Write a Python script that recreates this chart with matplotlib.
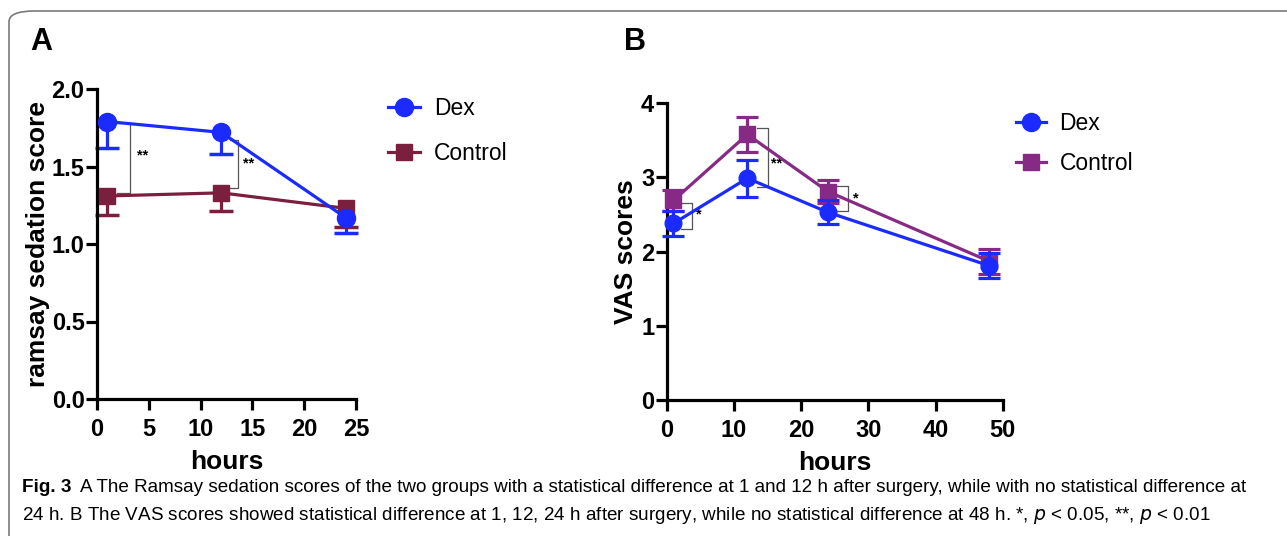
import numpy as np
import matplotlib as mpl
mpl.use('Agg')
import matplotlib.pyplot as plt
from matplotlib.patches import FancyBboxPatch
from matplotlib.lines import Line2D

plt.rcParams['font.family'] = ['Liberation Sans', 'DejaVu Sans']

# ---- data ----
hours_a = [1, 12, 24]
dex_a = [1.79, 1.72, 1.17]
dex_a_err = [0.17, 0.14, 0.10]
ctrl_a = [1.31, 1.33, 1.23]
ctrl_a_err = [0.12, 0.12, 0.12]

hours_b = [1, 12, 24, 48]
dex_b = [2.38, 2.99, 2.53, 1.81]
dex_b_err = [0.17, 0.25, 0.16, 0.17]
ctrl_b = [2.69, 3.58, 2.81, 1.87]
ctrl_b_err = [0.14, 0.24, 0.15, 0.17]

# brackets: (x start, x bar, y top, y bottom, label, label x, label y)
brackets_a = [(1.9, 3.2, 1.78, 1.33, '**', 3.9, 1.57),
              (12.8, 13.6, 1.67, 1.36, '**', 14.1, 1.52)]
brackets_b = [(2.2, 3.8, 2.66, 2.30, '*', 4.3, 2.50),
              (13.4, 15.0, 3.67, 2.87, '**', 15.5, 3.19),
              (25.3, 27.0, 2.88, 2.55, '*', 27.7, 2.72)]

BLUE = '#1b2bff'
MAROON = '#7b1f3e'
PURPLE = '#862a86'

W, H = 1287, 536
fig = plt.figure(figsize=(W / 100, H / 100), dpi=100)

# rounded frame round the whole figure
frame = FancyBboxPatch((9 / W, -0.05), 1.2, 1 - 11 / H + 0.05,
                       boxstyle='round,pad=0,rounding_size=0.02',
                       transform=fig.transFigure, fill=False,
                       edgecolor='#7a7a7a', lw=1.2)
fig.patches.append(frame)


def style_axes(ax):
    for s in ['top', 'right']:
        ax.spines[s].set_visible(False)
    for s in ['left', 'bottom']:
        ax.spines[s].set_linewidth(2.3)
    ax.tick_params(width=2.3, length=8, labelsize=17)
    ax.tick_params(axis='x', pad=6)
    ax.tick_params(axis='y', pad=1)
    for lab in ax.get_xticklabels() + ax.get_yticklabels():
        lab.set_fontweight('bold')


def draw_brackets(ax, brackets):
    for x0, xb, yt, yb, txt, tx, ty in brackets:
        ax.plot([x0, xb, xb, x0], [yt, yt, yb, yb], color='#555555', lw=0.9, zorder=1)
        ax.text(tx, ty, txt, fontsize=10.5, fontweight='bold', ha='left', va='center')


def legend_handles(ctrl_color, ms):
    return [Line2D([], [], color=BLUE, marker='o', lw=2.3, ms=ms + 1),
            Line2D([], [], color=ctrl_color, marker='s', lw=2.3, ms=ms)]


# ---------------- panel A ----------------
axA = fig.add_axes([97 / W, 1 - 399 / H, 259 / W, 310 / H])
axA.set_xlim(0, 25)
axA.set_ylim(0, 2.0)
axA.set_xticks([0, 5, 10, 15, 20, 25])
axA.set_yticks([0.0, 0.5, 1.0, 1.5, 2.0])
axA.set_yticklabels(['0.0', '0.5', '1.0', '1.5', '2.0'])

# one-sided (lower) error bars
for y, e, c in [(dex_a, dex_a_err, BLUE), (ctrl_a, ctrl_a_err, MAROON)]:
    y = np.array(y); e = np.array(e)
    axA.vlines(hours_a, y - e, y, color=c, lw=2.3, zorder=2, clip_on=False)
    axA.plot(hours_a, y - e, ls='none', marker='_', ms=17, mew=2.5, color=c,
             zorder=2, clip_on=False)

axA.plot(hours_a, ctrl_a, '-s', color=MAROON, lw=2.3, ms=12, zorder=3, clip_on=False)
axA.plot(hours_a, dex_a, '-o', color=BLUE, lw=2.3, ms=13, zorder=4, clip_on=False)
draw_brackets(axA, brackets_a)
style_axes(axA)
axA.set_xlabel('hours', fontsize=19, fontweight='bold', labelpad=6)
axA.set_ylabel('ramsay sedation score', fontsize=19, fontweight='bold', labelpad=1)
fig.legend(legend_handles(MAROON, 12), ['Dex', 'Control'], loc='upper left',
           bbox_to_anchor=(388 / W, 1 - 97 / H),
           bbox_transform=fig.transFigure, frameon=False, fontsize=16.5,
           handlelength=1.4, handletextpad=0.6, labelspacing=0.95,
           borderpad=0, borderaxespad=0)
fig.text(30 / W, 1 - 42 / H, 'A', fontsize=22, fontweight='bold', va='center')

# ---------------- panel B ----------------
axB = fig.add_axes([666.7 / W, 1 - 400 / H, 336 / W, 296.7 / H])
axB.set_xlim(0, 50)
axB.set_ylim(0, 4)
axB.set_xticks([0, 10, 20, 30, 40, 50])
axB.set_yticks([0, 1, 2, 3, 4])

axB.errorbar(hours_b, ctrl_b, yerr=ctrl_b_err, fmt='-s', color=PURPLE, lw=2.3,
             ms=11, capsize=8, capthick=2.3, elinewidth=2.3,
             zorder=3, clip_on=False)
axB.errorbar(hours_b, dex_b, yerr=dex_b_err, fmt='-o', color=BLUE, lw=2.3,
             ms=12, capsize=8, capthick=2.3, elinewidth=2.3,
             zorder=4, clip_on=False)
draw_brackets(axB, brackets_b)
style_axes(axB)
axB.set_xlabel('hours', fontsize=19, fontweight='bold', labelpad=6)
axB.set_ylabel('VAS scores', fontsize=19, fontweight='bold', labelpad=2)
fig.legend(legend_handles(PURPLE, 12), ['Dex', 'Control'], loc='upper left',
           bbox_to_anchor=(1016 / W, 1 - 112 / H),
           bbox_transform=fig.transFigure, frameon=False, fontsize=16.5,
           handlelength=1.3, handletextpad=0.6, labelspacing=0.75,
           borderpad=0, borderaxespad=0)
fig.text(624 / W, 1 - 42 / H, 'B', fontsize=22, fontweight='bold', va='center')

# ---------------- caption ----------------
cap_size = 13.6
fig.text(22 / W, 1 - 488 / H, 'Fig. 3', fontsize=cap_size, fontweight='bold',
         va='center')
fig.text(80 / W, 1 - 488 / H,
         'A The Ramsay sedation scores of the two groups with a statistical difference '
         'at 1 and 12 h after surgery, while with no statistical difference at',
         fontsize=cap_size, va='center')
fig.text(22 / W, 1 - 516 / H,
         r'24 h. B The VAS scores showed statistical difference at 1, 12, 24 h after '
         r'surgery, while no statistical difference at 48 h. *, $\it{p}$ < 0.05, **, $\it{p}$ < 0.01',
         fontsize=cap_size, va='center')

fig.savefig('out.png', dpi=100)
